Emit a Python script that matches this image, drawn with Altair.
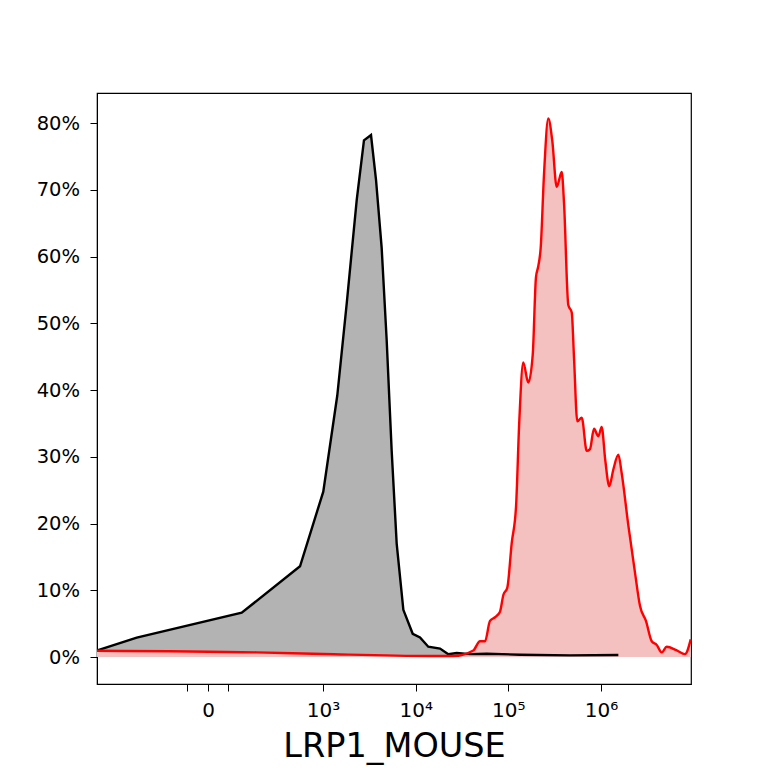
import altair as alt
import pandas as pd

# x positions are in display units of the biexponential axis (decade position: 3 -> 10^3)
neg_x = [0.565, 0.990, 2.123, 2.752, 3.003, 3.154, 3.256, 3.364, 3.442, 3.518, 3.572, 3.633,
         3.687, 3.741, 3.795, 3.867, 3.968, 4.047, 4.136, 4.263, 4.352, 4.443, 4.586, 4.766,
         5.126, 5.665, 6.187]
neg_y = [0.99, 2.92, 6.64, 13.60, 24.78, 39.18, 53.0, 68.5, 77.4, 78.2, 71.5, 61.3,
         47.5, 30.9, 17.0, 7.07, 3.48, 2.92, 1.54, 1.26, 0.43, 0.6, 0.43, 0.5,
         0.35, 0.25, 0.3]

pos_x = [0.561, 2.285, 3.0, 4.155, 4.406, 4.622, 4.694, 4.748, 4.802, 4.856, 4.910, 4.946,
         4.989, 5.036, 5.083, 5.118, 5.161, 5.215, 5.263, 5.298, 5.323, 5.349, 5.385, 5.431,
         5.474, 5.522, 5.576, 5.601, 5.647, 5.684, 5.709, 5.744, 5.792, 5.846, 5.881, 5.924,
         5.971, 6.007, 6.046, 6.089, 6.133, 6.187, 6.223, 6.294, 6.367, 6.421, 6.485, 6.547,
         6.601, 6.655, 6.709, 6.817, 6.906, 6.968]
pos_y = [0.95, 0.70, 0.45, 0.15, 0.15, 0.99, 2.37, 2.37, 5.41, 5.96, 6.80, 9.29,
         10.40, 17.03, 22.56, 35.30, 44.15, 41.11, 45.26, 56.88, 58.55, 61.30, 72.37, 80.67,
         77.36, 70.44, 72.66, 67.96, 52.73, 51.63, 44.70, 35.30, 35.85, 30.88, 31.15, 34.19,
         33.08, 34.47, 29.48, 25.62, 28.10, 30.32, 27.55, 19.81, 12.61, 7.63, 5.41, 2.37,
         1.81, 0.70, 1.54, 0.99, 0.43, 2.65]

tick_vals = [1.532, 1.759, 1.975, 3.0, 4.0, 5.0, 6.0]
tick_labels = ["", "0", "", "10³", "10⁴", "10⁵", "10⁶"]
y_ticks = [0, 10, 20, 30, 40, 50, 60, 70, 80]

neg = pd.DataFrame({"x": neg_x, "y": neg_y})
pos = pd.DataFrame({"x": pos_x, "y": pos_y})

label_expr = " : ".join(
    f"abs(datum.value - {v}) < 0.001 ? '{l}'" for v, l in zip(tick_vals, tick_labels)
) + " : ''"

xscale = alt.Scale(domain=[0.5612, 6.971], nice=False, zero=False)
yscale = alt.Scale(domain=[-4.04, 84.5], nice=False, zero=False)

xaxis = alt.Axis(values=tick_vals, labelExpr=label_expr, title="LRP1_MOUSE", grid=False,
                 tickSize=7, tickColor="black", domainColor="black", labelColor="black",
                 labelFontSize=20, labelFont="DejaVu Sans", labelPadding=9,
                 titleFontSize=33.5, titleFont="DejaVu Sans", titleFontWeight="normal",
                 titleColor="black", titlePadding=10, labelFlush=False)
yaxis = alt.Axis(values=y_ticks, labelExpr="datum.value + '%'", title=None, grid=False,
                 tickSize=7, tickColor="black", domainColor="black", labelColor="black",
                 labelFontSize=19.5, labelFont="DejaVu Sans", labelPadding=10.5, labelFlush=False)

base_x = alt.X("x:Q", scale=xscale, axis=xaxis)
base_y = alt.Y("y:Q", scale=yscale, axis=yaxis)

neg_area = alt.Chart(neg).mark_area(color="#b3b3b3", opacity=1).encode(
    x=base_x, y=base_y, y2=alt.datum(0))
pos_area = alt.Chart(pos).mark_area(color="#f5c0c0", opacity=1, interpolate="monotone").encode(
    x=base_x, y=base_y, y2=alt.datum(0))
neg_line = alt.Chart(neg).mark_line(color="black", strokeWidth=2.4).encode(x=base_x, y=base_y)
pos_line = alt.Chart(pos).mark_line(color="#ff0000", strokeWidth=2.4, interpolate="monotone").encode(
    x=base_x, y=base_y)

chart = alt.layer(neg_area, pos_area, neg_line, pos_line).properties(
    width=594, height=591,
    autosize=alt.AutoSizeParams(type="none"),
    padding={"left": 89, "top": 85, "right": 60, "bottom": 84},
).configure(background="white").configure_view(stroke="black", strokeWidth=1.2)

chart.save("out.html", embed_options={"renderer": "svg", "actions": False})
